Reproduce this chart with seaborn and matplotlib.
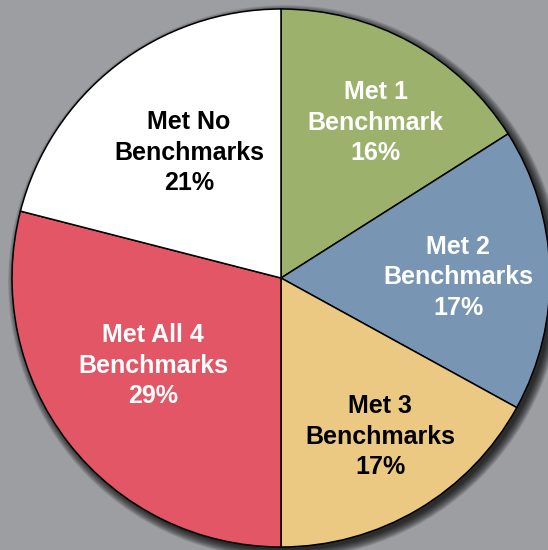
import numpy as np
import matplotlib
matplotlib.use("Agg")
import matplotlib.pyplot as plt
import seaborn as sns
from matplotlib.patches import Circle

categories = ["Met 1\nBenchmark", "Met 2\nBenchmarks", "Met 3\nBenchmarks",
              "Met All 4\nBenchmarks", "Met No\nBenchmarks"]
values = [16, 17, 17, 29, 21]
colors = ["#9cb16b", "#7896b4", "#ecc982", "#e25666", "#ffffff"]
text_colors = ["white", "white", "black", "white", "black"]
# label placement: fraction of radius and angular offset from wedge middle
label_dist = [0.677, 0.658, 0.695, 0.576, 0.578]
label_ang_off = [-2.6, -1.6, 1.4, -3.4, -1.6]

sns.set_style("white")
plt.rcParams['font.family'] = ['Liberation Sans', 'DejaVu Sans']

fig = plt.figure(figsize=(5.48, 5.50), dpi=100)
fig.patch.set_facecolor("#9d9ea2")
ax = fig.add_axes([0, 0, 1, 1])
ax.set_facecolor("#9d9ea2")

cx, cy, R = 281, 272, 269

# soft drop shadow
for i in range(16):
    ax.add_patch(Circle((cx + 4, cy - 4), R + 8 - i * 0.6, facecolor="black",
                        edgecolor="none", alpha=0.07, zorder=0))

wedges, _ = ax.pie(values, colors=colors, startangle=90, counterclock=False,
                   center=(cx, cy), radius=R,
                   wedgeprops=dict(edgecolor="black", linewidth=1.1), frame=True)
for w in wedges:
    w.set_zorder(2)

for w, lab, v, tc, d, off in zip(wedges, categories, values, text_colors,
                                 label_dist, label_ang_off):
    ang = np.deg2rad((w.theta1 + w.theta2) / 2 + off)
    x = cx + d * R * np.cos(ang)
    y = cy + d * R * np.sin(ang)
    ax.text(x, y, f"{lab}\n{v}%", ha="center", va="center", color=tc,
            fontsize=18, fontweight="bold", linespacing=1.36, zorder=3)

ax.set_xlim(0, 548)
ax.set_ylim(0, 550)
ax.set_aspect("equal")
ax.axis("off")
fig.savefig("out.png", dpi=100, facecolor=fig.get_facecolor())
